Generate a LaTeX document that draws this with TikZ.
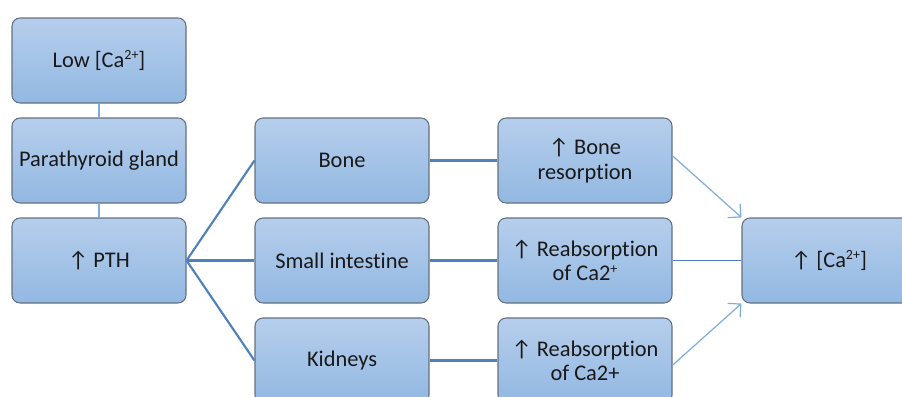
\documentclass[tikz,border=0pt]{standalone}
\usepackage{fontspec}
\setmainfont[Ligatures=NoCommon]{Carlito}
\usetikzlibrary{arrows.meta}
\definecolor{boxtop}{RGB}{182,206,236}
\definecolor{boxbot}{RGB}{146,184,226}
\definecolor{boxline}{RGB}{100,112,128}
\definecolor{darkcon}{RGB}{79,129,189}
\definecolor{lightcon}{RGB}{125,172,222}
\newcommand{\mysup}[1]{\raisebox{0.32em}{\fontsize{10.5}{10.5}\selectfont #1}}
\begin{document}
\begin{tikzpicture}[x=0.75pt,y=-0.75pt,
  stepbox/.style={draw=boxline, line width=0.8pt, rounded corners=6pt,
    top color=boxtop, bottom color=boxbot,
    minimum width=130.5pt, minimum height=63.75pt, inner sep=2pt,
    align=center, font=\fontsize{16.8}{18.5}\selectfont, text=black!90},
  darkline/.style={draw=darkcon, line width=1.6pt},
  lightline/.style={draw=lightcon, line width=0.9pt},
  lightarrow/.style={draw=lightcon, line width=0.9pt, -{Straight Barb[length=7pt,width=14pt]}}]
\useasboundingbox (0,0) rectangle (902,396);
\clip (0,0) rectangle (902,396);
\node[stepbox] (low) at (99,60.5) {Low [Ca\mysup{2+}]};
\node[stepbox] (para) at (99,160.5) {Parathyroid gland};
\node[stepbox] (pth) at (99,260.5) {↑ PTH};
\node[stepbox] (bone) at (342,160.5) {Bone};
\node[stepbox] (si) at (342,260.5) {Small intestine};
\node[stepbox] (kid) at (342,360.5) {Kidneys};
\node[stepbox] (bres) at (585,160.5) {↑ Bone\\resorption};
\node[stepbox] (rsi) at (585,260.5) {↑ Reabsorption\\of Ca2\mysup{+}};
\node[stepbox] (rkid) at (585,360.5) {↑ Reabsorption\\of Ca2+};
\node[stepbox] (ca) at (829,260.5) {↑ [Ca\mysup{2+}]};
\draw[lightline] (low) -- (para);
\draw[lightline] (para) -- (pth);
\draw[darkline] (pth.east) -- (bone.west);
\draw[darkline] (pth.east) -- (si.west);
\draw[darkline] (pth.east) -- (kid.west);
\draw[darkline] (bone) -- (bres);
\draw[darkline] (si) -- (rsi);
\draw[darkline] (kid) -- (rkid);
\draw[lightarrow] ([yshift=3.5pt]bres.east) -- (ca.north west);
\draw[darkline, line width=1.3pt] (rsi) -- (ca);
\draw[lightarrow] ([yshift=-3.5pt]rkid.east) -- (ca.south west);
\end{tikzpicture}
\end{document}
